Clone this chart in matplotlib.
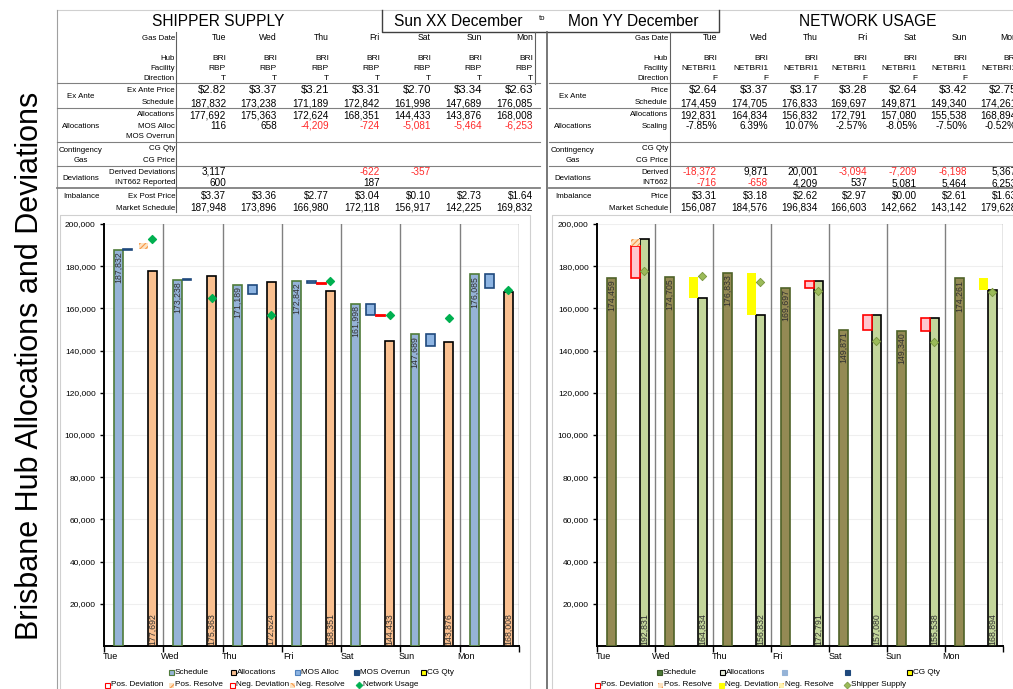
import numpy as np
import matplotlib
matplotlib.use('Agg')
import matplotlib.pyplot as plt
from matplotlib.patches import Rectangle
from matplotlib.ticker import FuncFormatter

plt.rcParams['font.family'] = ['Liberation Sans', 'DejaVu Sans']
plt.rcParams['hatch.linewidth'] = 0.8

W, H = 1013, 689

days = ['Tue', 'Wed', 'Thu', 'Fri', 'Sat', 'Sun', 'Mon']

# shipper supply
ship_price = [2.82, 3.37, 3.21, 3.31, 2.70, 3.34, 2.63]
ship_sched = [187832, 173238, 171189, 172842, 161998, 147689, 176085]
ship_alloc = [177692, 175363, 172624, 168351, 144433, 143876, 168008]
ship_mos = [116, 658, -4209, -724, -5081, -5464, -6253]
ship_dev = [3117, np.nan, np.nan, -622, -357, np.nan, np.nan]
ship_int662 = [600, np.nan, np.nan, 187, np.nan, np.nan, np.nan]
ship_post_price = [3.37, 3.36, 2.77, 3.04, 0.10, 2.73, 1.64]
ship_mkt = [187948, 173896, 166980, 172118, 156917, 142225, 169832]

# network usage
net_price = [2.64, 3.37, 3.17, 3.28, 2.64, 3.42, 2.75]
net_sched = [174459, 174705, 176833, 169697, 149871, 149340, 174261]
net_alloc = [192831, 164834, 156832, 172791, 157080, 155538, 168894]
net_scaling = [-7.85, 6.39, 10.07, -2.57, -8.05, -7.50, -0.52]
net_derived = [-18372, 9871, 20001, -3094, -7209, -6198, 5367]
net_int662 = [-716, -658, 4209, 537, 5081, 5464, 6253]
net_post_price = [3.31, 3.18, 2.62, 2.97, 0.00, 2.61, 1.63]
net_mkt = [156087, 184576, 196834, 166603, 142662, 143142, 179628]
net_resolve = [3117, 0, 0, 0, 0, 0, 0]

RED = '#FF2A2A'


def fmt_num(vals, red=True):
    out = []
    for v in vals:
        if np.isnan(v):
            out.append(('', 'black'))
        else:
            out.append((f'{v:,.0f}', RED if (red and v < 0) else 'black'))
    return out


def fmt_price(vals):
    return [(f'${v:.2f}', 'black') for v in vals]


def plain(vals):
    return [(v, 'black') for v in vals]


fig = plt.figure(figsize=(W / 100, H / 100), dpi=100)
bg = fig.add_axes([0, 0, 1, 1])
bg.set_xlim(0, W)
bg.set_ylim(H, 0)
bg.axis('off')

# frame lines
bg.plot([57, W], [10, 10], color='#D0D0D0', lw=0.8)
bg.plot([57, 57], [10, H], color='#A0A0A0', lw=0.8)
bg.plot([382, 382, 719, 719], [10, 32, 32, 10], color='#404040', lw=1)
bg.plot([547, 547], [32, H], color='#606060', lw=1.2)
bg.plot([535, 535], [32, 84], color='#606060', lw=0.8)
for y in [83, 108, 142, 166, 188]:
    bg.plot([57, 540], [y, y], color='#808080', lw=0.8 if y != 188 else 1.3)
    bg.plot([549, W], [y, y], color='#808080', lw=0.8 if y != 188 else 1.3)
bg.plot([176, 176], [32, 212], color='#606060', lw=0.8)
bg.plot([670, 670], [32, 212], color='#606060', lw=0.8)
bg.plot([60, 60, 530, 530], [H, 215, 215, H], color='#D0D0D0', lw=0.8)
bg.plot([552, 552, W], [H, 215, 215], color='#D0D0D0', lw=0.8)

bg.text(30, 366, 'Brisbane Hub Allocations and Deviations', rotation=90,
        ha='center', va='center', fontsize=22)
bg.text(218, 22, 'SHIPPER SUPPLY', ha='center', va='center', fontsize=11.2)
bg.text(868, 22, 'NETWORK USAGE', ha='center', va='center', fontsize=11.2)
bg.text(458, 22, 'Sun XX December', ha='center', va='center', fontsize=11.2)
bg.text(633, 22, 'Mon YY December', ha='center', va='center', fontsize=11.2)
bg.text(542, 19, 'to', ha='center', va='center', fontsize=5.5)

left_cols = [226, 277, 329, 380, 431, 482, 533]
right_cols = [717, 768, 818, 867, 917, 967, 1017]

left_rows = [
    ('Gas Date', 38, plain(days), 6.2),
    ('Hub', 58, plain(['BRI'] * 7), 6),
    ('Facility', 69, plain(['RBP'] * 7), 6),
    ('Direction', 79, plain(['T'] * 7), 6),
    ('Ex Ante Price', 90, fmt_price(ship_price), 8.2),
    ('Schedule', 103, fmt_num(ship_sched), 7.2),
    ('Allocations', 115, fmt_num(ship_alloc), 7.2),
    ('MOS Alloc', 126, fmt_num(ship_mos), 7.2),
    ('MOS Overrun', 137, plain([''] * 7), 7.2),
    ('CG Qty', 149, plain([''] * 7), 7.2),
    ('CG Price', 161, plain([''] * 7), 7.2),
    ('Derived Deviations', 172, fmt_num(ship_dev), 7.2),
    ('INT662 Reported', 183, fmt_num(ship_int662), 7.2),
    ('Ex Post Price', 196, fmt_price(ship_post_price), 7.2),
    ('Market Schedule', 208, fmt_num(ship_mkt), 7.2),
]
right_rows = [
    ('Gas Date', 38, plain(days), 6.2),
    ('Hub', 58, plain(['BRI'] * 7), 6),
    ('Facility', 69, plain(['NETBRI1'] * 7), 6),
    ('Direction', 79, plain(['F'] * 7), 6),
    ('Price', 90, fmt_price(net_price), 8.2),
    ('Schedule', 103, fmt_num(net_sched), 7.2),
    ('Allocations', 115, fmt_num(net_alloc), 7.2),
    ('Scaling', 126, plain([f'{v:.2f}%' for v in net_scaling]), 7.2),
    ('CG Qty', 149, plain([''] * 7), 7.2),
    ('CG Price', 161, plain([''] * 7), 7.2),
    ('Derived', 172, fmt_num(net_derived), 7.2),
    ('INT662', 183, fmt_num(net_int662), 7.2),
    ('Price', 196, fmt_price(net_post_price), 7.2),
    ('Market Schedule', 208, fmt_num(net_mkt), 7.2),
]
groups = [('Ex Ante', 96), ('Allocations', 126), ('Contingency', 150),
          ('Gas', 160), ('Deviations', 178), ('Imbalance', 196)]

for cols, lab_x, grp_x, rows in [(left_cols, 175, 81, left_rows),
                                 (right_cols, 668, 573, right_rows)]:
    for label, y, cells, fs in rows:
        bg.text(lab_x, y, label, ha='right', va='center', fontsize=5.7)
        for cx, (s, c) in zip(cols, cells):
            bg.text(cx, y, s, ha='right', va='center', fontsize=fs, color=c)
    for g, y in groups:
        bg.text(grp_x, y, g, ha='center', va='center', fontsize=5.7)

# charts
x = np.arange(len(days))
BW = 0.15
P_SCHED, P_MOS, P_DEV, P_ALLOC = 0.245, 0.5, 0.666, 0.818
bottom = (H - 646) / H
height = 422 / H


def setup(ax):
    ax.set_xlim(0, 7)
    ax.set_ylim(0, 200000)
    ax.set_yticks(range(20000, 200001, 20000))
    ax.yaxis.set_major_formatter(FuncFormatter(lambda v, p: f'{v:,.0f}'))
    ax.tick_params(axis='y', labelsize=6, length=3, width=1, pad=3)
    ax.set_xticks(range(8))
    ax.set_xticklabels([])
    ax.tick_params(axis='x', length=4, width=1)
    ax.yaxis.grid(True, color='#EFEFEF', lw=0.8)
    ax.set_axisbelow(True)
    for s in ['top', 'right']:
        ax.spines[s].set_visible(False)
    for s in ['left', 'bottom']:
        ax.spines[s].set_linewidth(1.4)
    for k in range(1, 8):
        ax.axvline(k, color='#808080', lw=1, zorder=1)
    for i, d in enumerate(days):
        ax.text(i + 0.11, -0.026, d, transform=ax.get_xaxis_transform(),
                ha='center', va='center', fontsize=6.5)


def bar_labels(ax, vals, pos, top):
    for i, v in enumerate(vals):
        if top:
            ax.text(i + pos, v - 600, f'{v:,}', rotation=90, ha='center',
                    va='top', fontsize=6.3, color='#303030', zorder=6)
        else:
            ax.text(i + pos, 700, f'{v:,}', rotation=90, ha='center',
                    va='bottom', fontsize=6.3, color='#303030', zorder=6)


# left: shipper supply
axl = fig.add_axes([104 / W, bottom, 415 / W, height])
setup(axl)
axl.bar(x + P_SCHED, ship_sched, BW, color='#95B3D7', edgecolor='#4F7B3A', lw=1.2, zorder=3)
axl.bar(x + P_ALLOC, ship_alloc, BW, color='#FAC090', edgecolor='black', lw=1.2, zorder=3)
mos = np.array(ship_mos)
mos_pos = np.where(mos > 0, 0.4, P_MOS)
axl.bar(x + mos_pos, mos, BW, bottom=ship_sched, color='#8DB4E2',
        edgecolor='#1F497D', lw=1.2, zorder=3)
dev = np.array(ship_dev)
mkt = np.array(ship_mkt)
pos = dev > 0
neg = dev < 0
axl.bar(x[pos] + P_DEV, dev[pos], BW, bottom=mkt[pos], facecolor='#FDE2C0',
        edgecolor='#F79646', lw=0, hatch='//////', zorder=3)
axl.bar(x[neg] + P_DEV, dev[neg], BW, bottom=mkt[neg], facecolor='#FF9999',
        edgecolor='#FF0000', lw=1.3, zorder=3)
axl.scatter(x + P_ALLOC, net_alloc, marker='D', s=16, color='#00B050', zorder=5)
bar_labels(axl, ship_sched, P_SCHED, True)
bar_labels(axl, ship_alloc, P_ALLOC, False)

# right: network usage
axr = fig.add_axes([597 / W, bottom, 406 / W, height])
setup(axr)
axr.bar(x + P_SCHED, net_sched, BW, color='#948A54', edgecolor='#4F6228', lw=1.2, zorder=3)
axr.bar(x + P_ALLOC, net_alloc, BW, color='#C3D69B', edgecolor='black', lw=1.2, zorder=3)
ns = np.array(net_sched)
na = np.array(net_alloc)
nr = np.array(net_resolve)
up = na > ns
dn = na < ns
axr.bar(x[up] + P_DEV, (na - nr - ns)[up], BW, bottom=ns[up], facecolor='#FFC7CE',
        edgecolor='#FF0000', lw=1.2, zorder=3)
rs = nr > 0
axr.bar(x[rs] + P_DEV, nr[rs], BW, bottom=(na - nr)[rs], facecolor='#FDE2C0',
        edgecolor='#F79646', lw=0, hatch='//////', zorder=3)
axr.bar(x[dn] + P_DEV, (ns - na)[dn], BW, bottom=na[dn], facecolor='#FFFF00',
        edgecolor='none', zorder=3)
axr.scatter(x + P_ALLOC, ship_alloc, marker='D', s=18, color='#9BBB59',
            edgecolors='#77933C', linewidths=0.6, zorder=5)
bar_labels(axr, net_sched, P_SCHED, True)
bar_labels(axr, net_alloc, P_ALLOC, False)


# legends
def sq(xp, y, fc, ec, label, hatch=None, lw=0.8):
    bg.add_patch(Rectangle((xp - 2.5, y - 2.5), 5, 5, facecolor=fc, edgecolor=ec,
                           lw=lw, hatch=hatch))
    if label:
        bg.text(xp + 4, y, label, ha='left', va='center', fontsize=5.9)


def dia(xp, y, fc, ec, label):
    bg.plot([xp], [y], marker='D', ms=3.5, color=fc, mec=ec, mew=0.5)
    bg.text(xp + 4, y, label, ha='left', va='center', fontsize=5.9)


r1, r2 = 672, 685
sq(171, r1, '#95B3D7', '#4F7B3A', 'Schedule')
sq(233, r1, '#FAC090', 'black', 'Allocations')
sq(297, r1, '#8DB4E2', '#4F81BD', 'MOS Alloc')
sq(356, r1, '#1F497D', '#1F497D', 'MOS Overrun')
sq(423, r1, '#FFFF00', 'black', 'CG Qty')
sq(107, r2, 'white', '#FF0000', 'Pos. Deviation')
sq(171, r2, '#FDE2C0', '#F79646', 'Pos. Resolve', hatch='////', lw=0)
sq(232, r2, 'white', '#FF0000', 'Neg. Deviation')
sq(292, r2, '#FDE2C0', '#F79646', 'Neg. Resolve', hatch='\\\\\\\\', lw=0)
dia(359, r2, '#00B050', '#00B050', 'Network Usage')

sq(659, r1, '#4F7B3A', '#375623', 'Schedule')
sq(722, r1, '#EBF1DE', 'black', 'Allocations')
sq(784, r1, '#95B3D7', '#95B3D7', '')
sq(847, r1, '#1F497D', '#1F497D', '')
sq(909, r1, '#FFFF00', 'black', 'CG Qty')
sq(597, r2, 'white', '#FF0000', 'Pos. Deviation')
sq(660, r2, '#FDE2C0', '#F79646', 'Pos. Resolve', hatch='////', lw=0)
sq(721, r2, '#FFFF00', '#FFFF00', 'Neg. Deviation')
sq(781, r2, '#FFF2B0', '#F7B646', 'Neg. Resolve', hatch='\\\\\\\\', lw=0)
dia(847, r2, '#9BBB59', '#77933C', 'Shipper Supply')

fig.savefig('out.png', dpi=100)
